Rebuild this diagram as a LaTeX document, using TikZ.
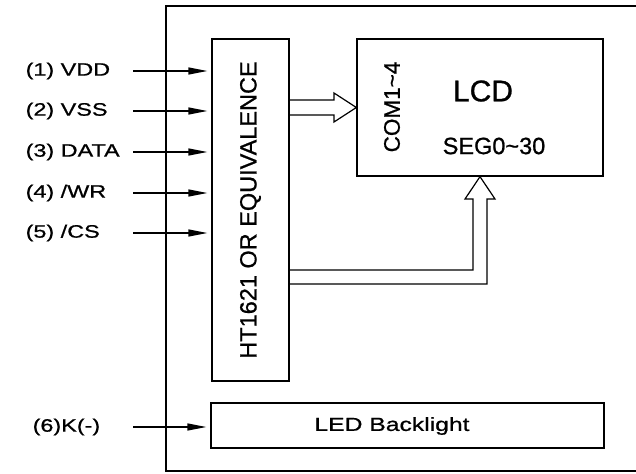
\documentclass[tikz,border=0pt]{standalone}
\usepackage{fontspec}
\setmainfont[FakeBold=0.8]{Liberation Sans}
\newfontfamily\widefont[FakeStretch=1.3,FakeBold=0.8]{Liberation Sans}
\usetikzlibrary{
arrows.meta,
calc,
positioning
}
\tikzset{>=latex}

\begin{document}
\begin{tikzpicture}[x=1pt, y=-1pt, line width=1.3pt, font=\fontsize{23.5}{26}\selectfont,
		block/.style={draw,inner sep=0pt,minimum width=#1},
		lbl/.style={anchor=west,inner sep=0pt,font=\widefont\fontsize{18}{20}\selectfont},
		pin/.style={-{Triangle[length=19pt,width=7pt]},shorten >=4pt},
		hollow/.style={line width=1.2pt,line join=miter}]
		\useasboundingbox (0,0) rectangle (636,473);

		% frame
		\draw (636,6) -- (166,6) -- (166,471) -- (636,471);

		% blocks
		\node[block=77pt,minimum height=342pt]   (chip) at (250.5,210)   {\rotatebox{90}{HT1621 OR EQUIVALENCE}};
		\node[block=246pt,minimum height=137pt]  (lcd)  at (480,107.5)   {};
		\node[block=393pt,minimum height=45pt]   (bl)   at (407.5,425.5) {};
		\node[inner sep=0pt,font=\widefont\fontsize{19}{21}\selectfont] (bltext) at (392,426) {LED Backlight};

		% lcd texts
		\node[inner sep=0pt,font=\fontsize{30}{32}\selectfont] (lcdname) at (483,91) {LCD};
		\node[inner sep=0pt] (seg) at (494,146) {SEG0\textasciitilde30};
		\node[inner sep=0pt,font=\fontsize{22.5}{24}\selectfont] (com) at (392,107) {\rotatebox{90}{COM1\textasciitilde4}};

		% inputs
		\node[lbl] (vdd)  at (25,71)  {(1) VDD};
		\node[lbl] (vss)  at (25,111) {(2) VSS};
		\node[lbl] (data) at (25,152) {(3) DATA};
		\node[lbl] (wr)   at (25,193) {(4) /WR};
		\node[lbl] (cs)   at (25,233) {(5) /CS};
		\node[lbl] (kled) at (32,427) {(6)K(-)};
		\coordinate (in) at (133,0);

		\draw[pin] (vdd -| in)  -- (vdd -| chip.west);
		\draw[pin] (vss -| in)  -- (vss -| chip.west);
		\draw[pin] (data -| in) -- (data -| chip.west);
		\draw[pin] (wr -| in)   -- (wr -| chip.west);
		\draw[pin] (cs -| in)   -- (cs -| chip.west);
		\draw[pin] (kled -| in) -- (kled -| bl.west);

		% bus arrows
		\draw[hollow] (chip.east |- 0,100) -- (334,100) -- (334,93) -- (lcd.west)
			-- (334,122) -- (334,115) -- (chip.east |- 0,115);
		\draw[hollow] (chip.east |- 0,270) -- (473,270) -- (473,199) -- (465,199) -- (lcd.south)
			-- (495,199) -- (487,199) -- (487,284) -- (chip.east |- 0,284);
\end{tikzpicture}
\end{document}
